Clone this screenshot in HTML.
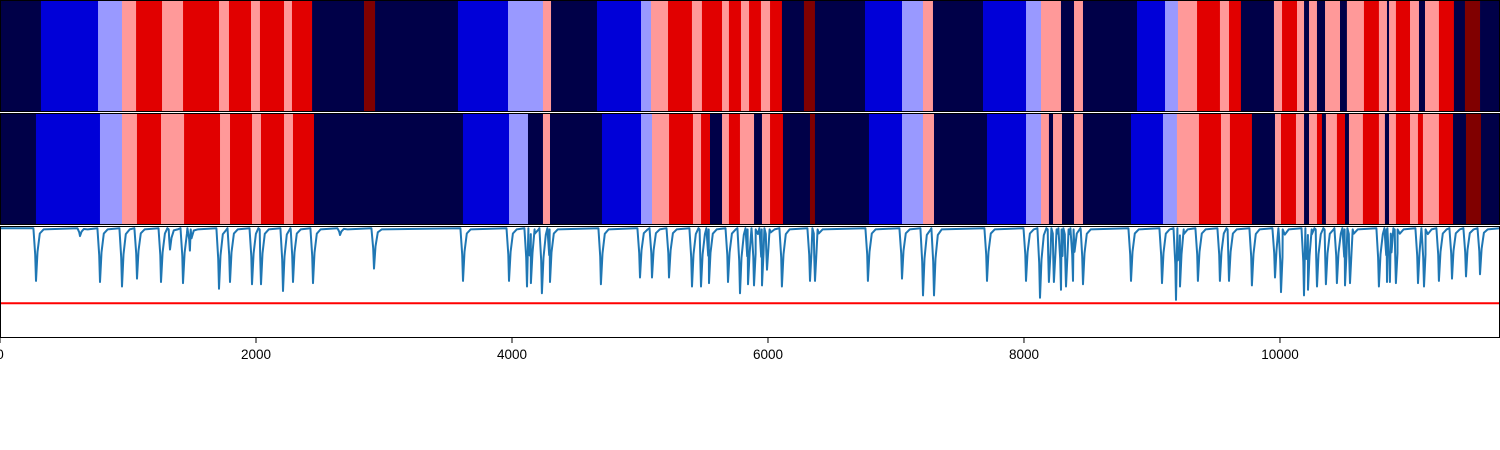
<!DOCTYPE html>
<html><head><meta charset="utf-8"><style>
html,body{margin:0;padding:0;background:#fff;}
svg{display:block;font-family:"Liberation Sans",sans-serif;}
</style></head><body>
<svg id="chart" width="1500" height="450" viewBox="0 0 1500 450" xmlns="http://www.w3.org/2000/svg"></svg>
<script>
const classColors = ["#000048","#0000d8","#9999ff","#ff9999","#e10000","#800000"];
const row1Starts = [0,320,766,953,1063,1266,1430,1711,1789,1961,2031,2219,2281,2438,2844,2930,3578,3969,4242,4305,4664,5008,5086,5219,5406,5484,5641,5695,5789,5852,5945,6016,6109,6281,6367,6758,7047,7211,7289,7680,8016,8133,8289,8391,8461,8883,9102,9203,9352,9531,9602,9695,9953,10016,10133,10188,10227,10289,10352,10469,10523,10656,10773,10836,10852,10906,11016,11086,11133,11242,11359,11445,11563];
const row1Classes = [0,1,2,3,4,3,4,3,4,3,4,3,4,0,5,0,1,2,3,0,1,2,3,4,3,4,3,4,3,4,3,4,0,5,0,1,2,3,0,1,2,3,0,3,0,1,2,3,4,3,4,0,3,4,3,0,3,0,3,0,3,4,3,0,3,4,3,0,3,4,0,5,0];
const row2Starts = [0,281,781,953,1070,1258,1438,1719,1797,1969,2039,2219,2289,2453,3617,3977,4125,4242,4297,4703,5008,5094,5227,5414,5477,5547,5641,5695,5781,5891,5953,6016,6117,6328,6367,6789,7047,7211,7297,7711,8016,8133,8195,8227,8297,8391,8461,8836,9086,9195,9367,9539,9609,9781,9961,10008,10125,10188,10227,10289,10328,10359,10445,10508,10539,10648,10773,10820,10852,10906,11016,11078,11117,11242,11352,11453,11570];
const row2Classes = [0,1,2,3,4,3,4,3,4,3,4,3,4,0,1,2,0,3,0,1,2,3,4,3,4,0,3,4,3,0,3,4,0,5,0,1,2,3,0,1,2,3,0,3,0,3,0,1,2,3,4,3,4,0,3,4,3,0,3,4,0,3,4,0,3,4,3,0,3,4,3,4,3,4,0,5,0];
const dipX = [281,625,781,953,1070,1258,1328,1430,1484,1711,1797,1969,2039,2211,2289,2445,2656,2922,3617,3977,4117,4148,4234,4297,4695,5000,5094,5227,5406,5477,5539,5688,5781,5844,5891,5953,5992,6109,6328,6367,6781,7047,7211,7297,7711,8016,8125,8195,8234,8289,8328,8383,8461,8836,9078,9188,9219,9359,9531,9602,9781,9961,10008,10188,10219,10289,10359,10445,10508,10547,10773,10836,10859,10906,11078,11125,11242,11344,11453,11563];
const dipV = [0.51,0.91,0.50,0.46,0.53,0.50,0.79,0.49,0.78,0.44,0.50,0.48,0.48,0.42,0.50,0.49,0.92,0.62,0.51,0.51,0.46,0.49,0.40,0.50,0.48,0.54,0.54,0.54,0.46,0.46,0.49,0.50,0.40,0.48,0.47,0.47,0.61,0.46,0.51,0.51,0.51,0.53,0.38,0.38,0.51,0.51,0.36,0.50,0.50,0.43,0.46,0.51,0.48,0.51,0.49,0.34,0.46,0.51,0.51,0.51,0.47,0.54,0.41,0.38,0.43,0.46,0.48,0.49,0.47,0.49,0.46,0.50,0.50,0.49,0.49,0.46,0.51,0.53,0.55,0.57];
const baseline = 0.98;
const threshold = 0.31;
const xTicks = [0,2000,4000,6000,8000,10000];
const xMax = 11719;

const svg = document.getElementById('chart');
const NS = 'http://www.w3.org/2000/svg';
const W = 1500;
function xs(v){ return v / xMax * W; }
function ys(v){ return 338 - v * 112; }
function mk(tag, attrs){ const e = document.createElementNS(NS, tag); for (const k in attrs) e.setAttribute(k, attrs[k]); svg.appendChild(e); return e; }

function drawRow(starts, classes, y0, h, name){
  for (let i = 0; i < starts.length; i++){
    const a = xs(starts[i]);
    const b = i + 1 < starts.length ? xs(starts[i+1]) : W;
    const r = mk('rect', {x:a, y:y0, width:Math.max(b-a,0.5)+0.3, height:h, fill:classColors[classes[i]]});
    
    
  }
}
drawRow(row1Starts, row1Classes, 0, 112, 'row1');
drawRow(row2Starts, row2Classes, 113, 112, 'row2');
const sep = mk('rect', {x:0, y:112, width:W, height:1, fill:'#ffffff'});



// line panel
const pts = [[0, baseline]];
for (let i = 0; i < dipX.length; i++){
  const v = dipV[i];
  pts.push([dipX[i]-20, baseline]);
  pts.push([dipX[i]-6, v + (baseline - v) * 0.5]);
  pts.push([dipX[i], v]);
  pts.push([dipX[i]+12, v + (baseline - v) * 0.55]);
  pts.push([dipX[i]+30, v + (baseline - v) * 0.9]);
  pts.push([dipX[i]+60, baseline - 0.01]);
}
pts.push([xMax, baseline]);
pts.sort((p,q)=>p[0]-q[0]);
let d = '';
pts.forEach((p,i)=>{ d += (i? 'L':'M') + xs(p[0]).toFixed(1) + ',' + ys(p[1]).toFixed(1); });
const clipR = mk('clipPath', {id:'lineclip'});
const cr = document.createElementNS(NS,'rect'); cr.setAttribute('x',0); cr.setAttribute('y',226); cr.setAttribute('width',W); cr.setAttribute('height',112); clipR.appendChild(cr);
const line = mk('path', {d:d, fill:'none', stroke:'#1f77b4', 'stroke-width':2, 'stroke-linejoin':'round', 'clip-path':'url(#lineclip)'});


const th = mk('line', {x1:0, x2:W, y1:ys(threshold), y2:ys(threshold), stroke:'#ff0000', 'stroke-width':2});



// frames
[[0,0,112],[0,113,112],[0,226,112]].forEach((f,i)=>{
  const r = mk('rect', {x:0.5, y:f[1]+0.5, width:W-1, height:f[2]-1, fill:'none', stroke:'#000', 'stroke-width':1});
  
  
});

// ticks
xTicks.forEach(t=>{
  const x = xs(t);
  const tk = mk('line', {x1:x, x2:x, y1:338, y2:343, stroke:'#000', 'stroke-width':1});
  
  
  const lb = mk('text', {x:x, y:359, 'font-size':13.5, 'text-anchor':'middle', fill:'#000'});
  lb.textContent = String(t);
  
  
});
</script>
</body></html>
